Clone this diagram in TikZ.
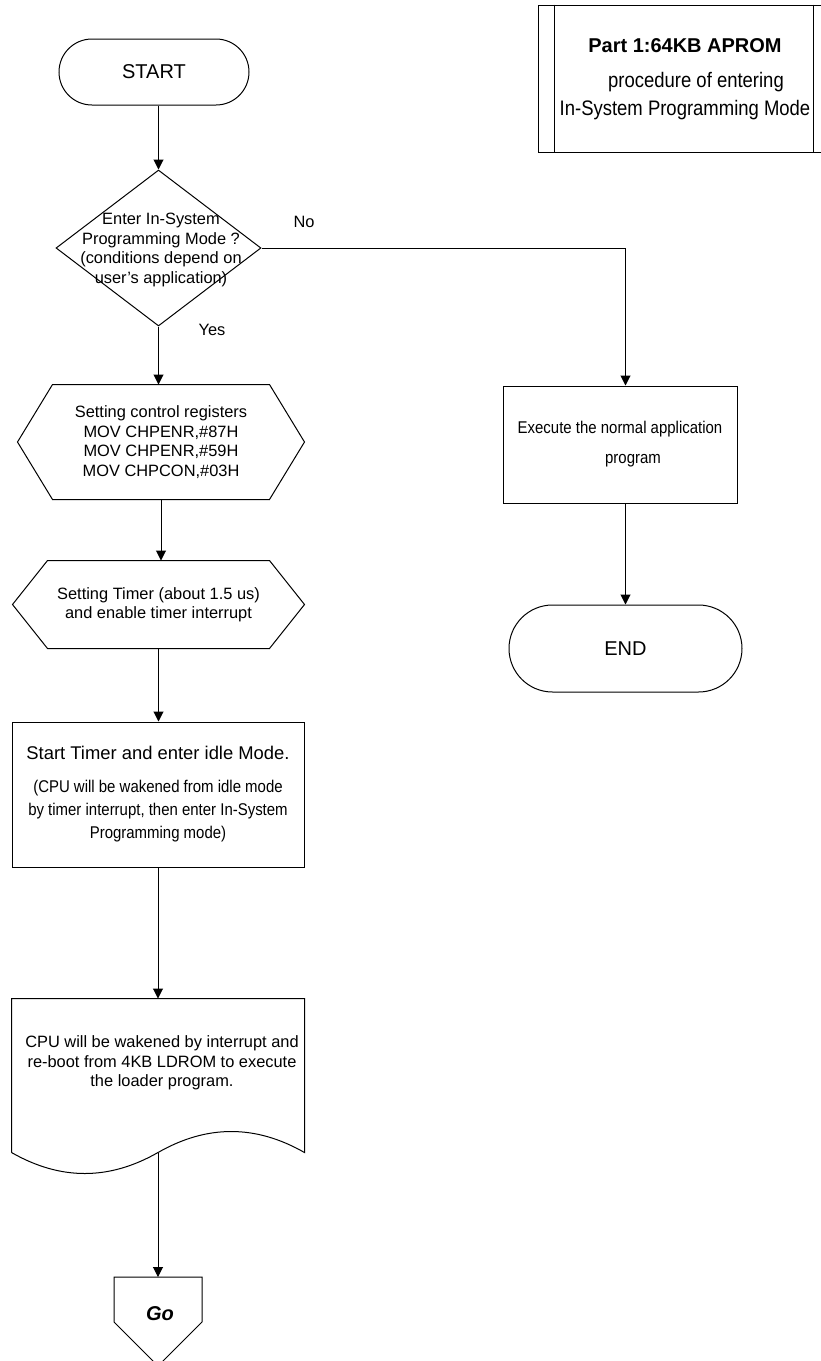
\documentclass[tikz,border=0pt]{standalone}
\usepackage{fontspec}
\setmainfont{Liberation Sans}
\newfontfamily\narrowfont[FakeStretch=0.88]{Liberation Sans}
\usetikzlibrary{shapes.geometric,shapes.misc,arrows.meta}

\tikzset{
  every node/.style={align=center, inner sep=0pt},
  txt/.style={font=\fontsize{16.4}{19.5}\selectfont},
  term/.style={draw, rounded rectangle, font=\fontsize{20}{24}\selectfont},
  decide/.style={draw, diamond},
  prep/.style={txt},
  proc/.style={draw, rectangle},
  lbl/.style={txt},
  flow/.style={-{Triangle[length=10pt,width=10pt]}},
}

\begin{document}
\begin{tikzpicture}[x=1pt, y=-1pt, line width=1pt]
  \useasboundingbox (0,0) rectangle (820,1361);

  % title block
  \node[draw, minimum width=292pt, minimum height=147pt] (title) at (684,78.5) {};
  \draw ([xshift=17pt]title.north west) -- ([xshift=17pt]title.south west)
        ([xshift=-17pt]title.north east) -- ([xshift=-17pt]title.south east);
  \node[font=\narrowfont\fontsize{21}{28}\selectfont] (titletext) at (685,79)
    {{\rmfamily\bfseries\fontsize{20}{24}\selectfont Part 1:64KB APROM}\\[7pt]
     \hspace*{22pt}procedure of entering\\
     In-System Programming Mode};

  % left column
  \node[term, minimum width=190pt, minimum height=66pt] (start) at (154,72) {START};
  \node[decide, minimum width=205pt, minimum height=156pt] (ask) at (158.5,248) {};
  \node[txt] (asktext) at (161,250)
    {Enter In-System\\Programming Mode ?\\(conditions depend on\\user's application)};
  \node[lbl] (no) at (304,222) {No};
  \node[lbl] (yes) at (212,330) {Yes};

  \node[prep, minimum width=286pt, minimum height=114pt] (regs) at (161,442)
    {Setting control registers\\MOV CHPENR,\#87H\\MOV CHPENR,\#59H\\MOV CHPCON,\#03H};
  \node[prep, minimum width=291pt, minimum height=87pt] (timer) at (158.5,604.5)
    {Setting Timer (about 1.5 us)\\and enable timer interrupt};
  \foreach \n in {regs,timer}
    \draw ([xshift=35pt]\n.north west) -- ([xshift=-35pt]\n.north east) -- (\n.east)
      -- ([xshift=-35pt]\n.south east) -- ([xshift=35pt]\n.south west) -- (\n.west) -- cycle;

  \node[proc, minimum width=292pt, minimum height=145pt,
        font=\narrowfont\fontsize{17}{23}\selectfont] (idle) at (158,794.5)
    {{\rmfamily\fontsize{18.4}{22}\selectfont Start Timer and enter idle Mode.}\\[10pt]
     (CPU will be wakened from idle mode\\
     by timer interrupt, then enter In-System\\
     Programming mode)};

  \node[minimum width=292pt, minimum height=153pt] (boot) at (158,1075.5) {};
  \node[txt] (boottext) at (162,1063)
    {CPU will be wakened by interrupt and\\re-boot from 4KB LDROM to execute\\the loader program.};
  \draw (boot.south west) -- (boot.north west) -- (boot.north east) -- (boot.south east)
    .. controls +(-49,-28) and +(49,-28) .. (boot.south)
    .. controls +(-49,28) and +(49,28) .. (boot.south west);

  \coordinate (gotop) at (158,1277);
  \node[font=\fontsize{20}{24}\selectfont\bfseries\itshape] (go) at (160,1314) {Go};
  \draw (114,1277) -- (202,1277) -- (202,1322) -- (158,1366) -- (114,1322) -- cycle;

  % right column
  \node[proc, minimum width=234pt, minimum height=117pt,
        font=\narrowfont\fontsize{17}{30}\selectfont] (run) at (620,444.5)
    {Execute the normal application\\\hspace*{26pt}program};
  \node[term, minimum width=233pt, minimum height=87pt] (stop) at (625.5,648.5) {END};

  % connectors
  \draw[flow] (start.south -| ask.north) -- (ask.north);
  \draw[flow] (ask.south) -- (ask.south |- regs.north);
  \draw[flow] (ask.east) -| (run.north -| stop.north);
  \draw[flow] (run.south -| stop.north) -- (stop.north);
  \draw[flow] (regs.south) -- (regs.south |- timer.north);
  \draw[flow] (timer.south) -- (timer.south |- idle.north);
  \draw[flow] (idle.south) -- (boot.north);
  \draw[flow] (boot.south) -- (gotop);
\end{tikzpicture}
\end{document}
